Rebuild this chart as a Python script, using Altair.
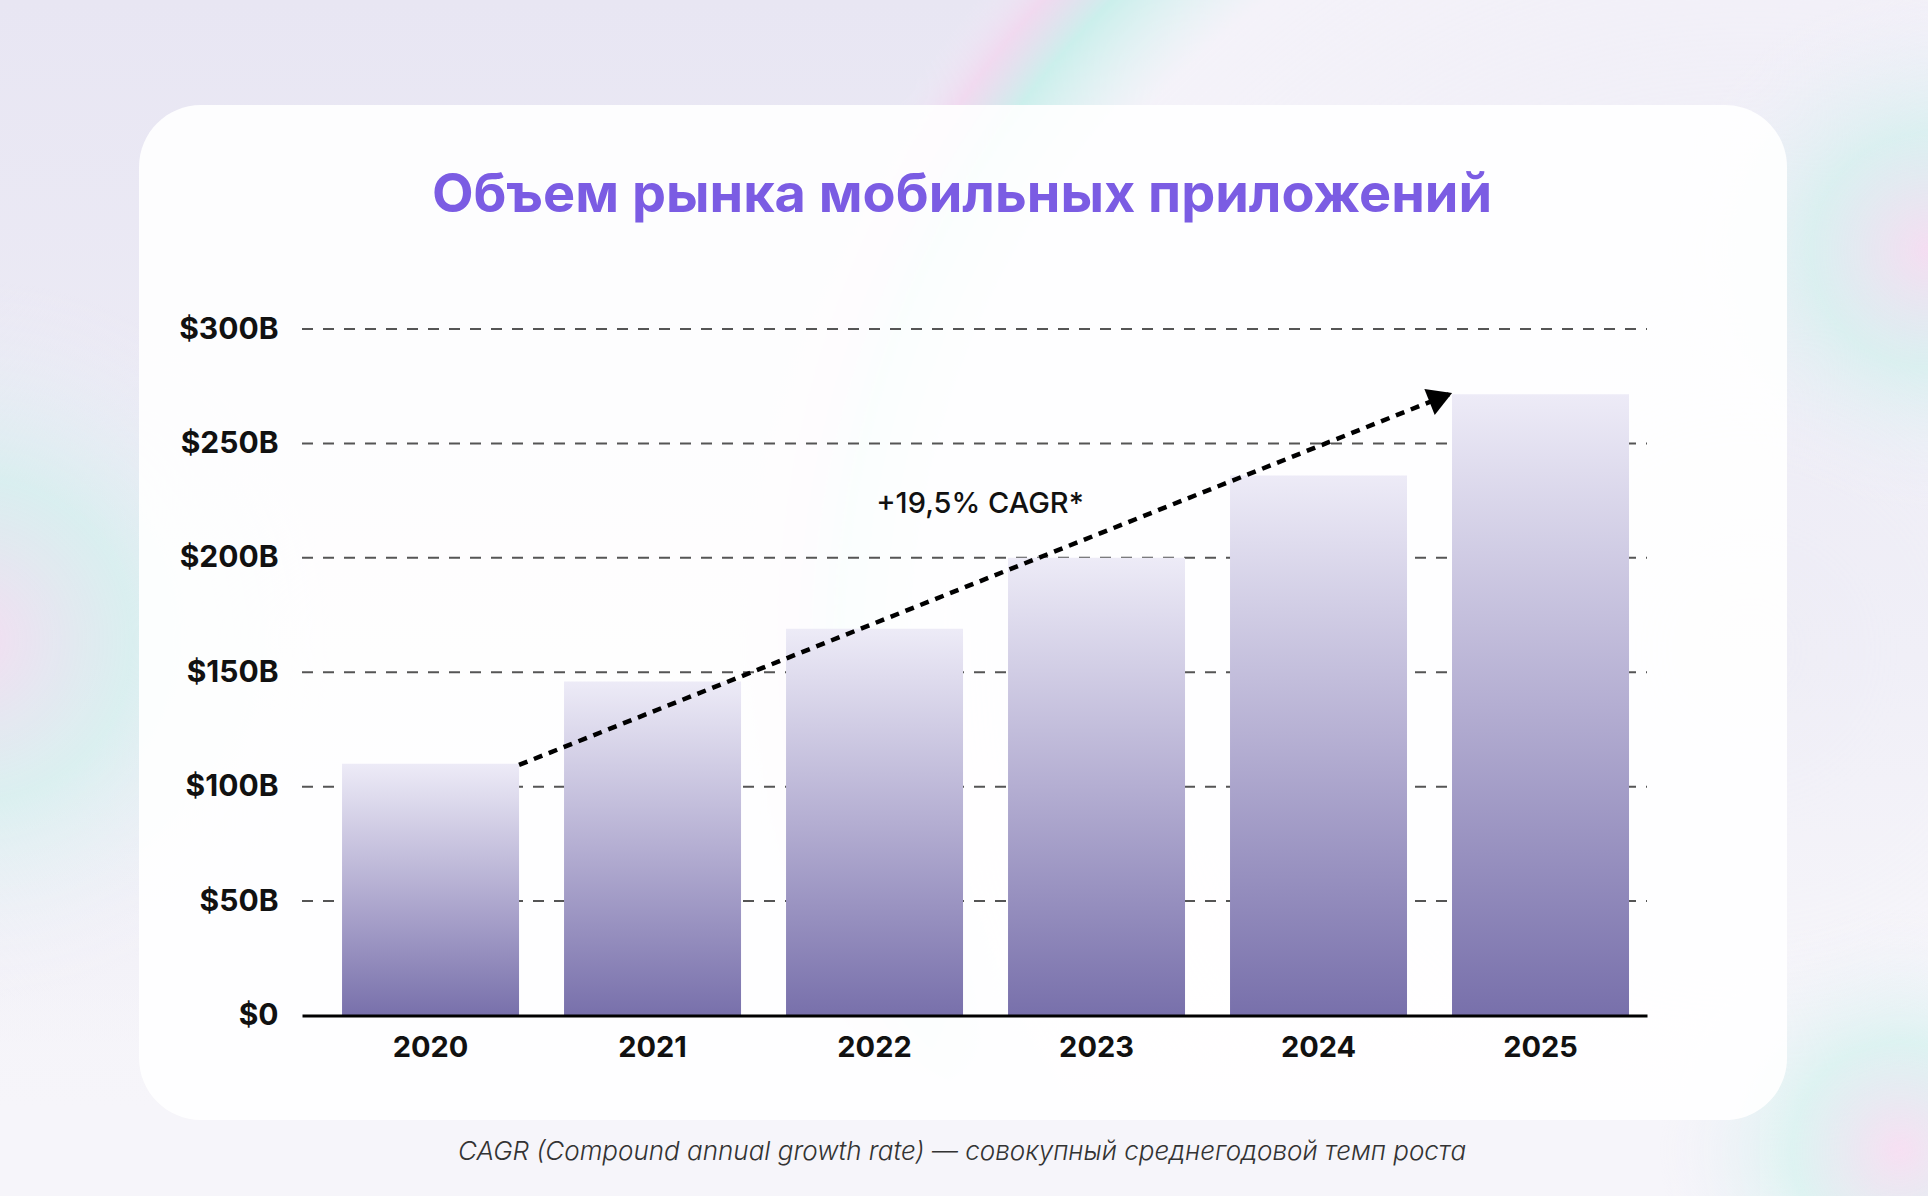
import altair as alt
import pandas as pd

# ---- data ----
years = ["2020", "2021", "2022", "2023", "2024", "2025"]
market_values = [110, 146, 169, 200, 236, 271.5]
y_ticks = [0, 50, 100, 150, 200, 250, 300]

title_text = "Объем рынка мобильных приложений"
annotation_text = "+19,5% CAGR*"
footnote_text = "CAGR (Compound annual growth rate) — совокупный среднегодовой темп роста"

arrow_years = ["2020", "2025"]
arrow_values = [109.5, 272]

# ---- layout ----
W, H = 1345, 686.5
PAD_L, PAD_T = 302, 329
FONT = "Inter"

bars_df = pd.DataFrame({"year": years, "value": market_values})
grid_df = pd.DataFrame({"value": y_ticks[1:]})
arrow_df = pd.DataFrame({"year": [arrow_years[0]], "year_to": [arrow_years[1]],
                         "value": [arrow_values[0]], "v_to": [arrow_values[1]]})
head_df = pd.DataFrame({"year": [arrow_years[1]], "value": [arrow_values[1]]})
one = pd.DataFrame({"a": [0]})

x_scale = alt.Scale(domain=years, paddingInner=0.2027, paddingOuter=0.1307, align=0.69)
y_scale = alt.Scale(domain=[0, 300], nice=False)

x_axis = alt.Axis(title=None, labelAngle=0, ticks=False, domain=True, zindex=1,
                  domainColor="#000000", domainWidth=3,
                  labelFont=FONT, labelFontSize=29, labelFontWeight="bold",
                  labelColor="#111111", labelPadding=18)
y_axis = alt.Axis(title=None, values=y_ticks, grid=False, ticks=False, domain=False, zindex=1,
                  labelFont=FONT, labelFontSize=30, labelFontWeight="bold",
                  labelColor="#111111", labelPadding=24, labelBaseline="middle",
                  labelExpr="datum.value == 0 ? '$0' : '$' + datum.value + 'B'")

# ---- decorative background ----
bg_grad = alt.Gradient(gradient="linear", x1=0, x2=0, y1=0, y2=1,
                       stops=[alt.GradientStop(color="#E8E6F3", offset=0),
                              alt.GradientStop(color="#EEEDF6", offset=0.55),
                              alt.GradientStop(color="#F7F6FA", offset=1)])
background = alt.Chart(one).mark_rect(fill=bg_grad).encode(
    x=alt.value(-PAD_L), x2=alt.value(1928 - PAD_L),
    y=alt.value(-PAD_T), y2=alt.value(1196 - PAD_T))

ring_grad = alt.Gradient(gradient="radial",
                         stops=[alt.GradientStop(color="rgba(255,255,255,0)", offset=0),
                                alt.GradientStop(color="rgba(252,250,253,0.6)", offset=0.8),
                                alt.GradientStop(color="rgba(200,240,235,0.9)", offset=0.9),
                                alt.GradientStop(color="rgba(244,212,238,0.7)", offset=0.95),
                                alt.GradientStop(color="rgba(240,236,248,0)", offset=1)])
ring_right = alt.Chart(one).mark_point(shape="circle", size=2022 ** 2, filled=True,
                                       fill=ring_grad, opacity=1, strokeWidth=0).encode(
    x=alt.value(1750 - PAD_L), y=alt.value(650 - PAD_T))

bottom_fade = alt.Chart(one).mark_rect(fill=alt.Gradient(
    gradient="linear", x1=0, x2=0, y1=0, y2=1,
    stops=[alt.GradientStop(color="rgba(246,245,250,0)", offset=0),
           alt.GradientStop(color="rgba(246,245,250,1)", offset=0.6)])).encode(
    x=alt.value(-PAD_L), x2=alt.value(1760 - PAD_L),
    y=alt.value(980 - PAD_T), y2=alt.value(1196 - PAD_T))

glow_grad = alt.Gradient(gradient="radial",
                         stops=[alt.GradientStop(color="rgba(246,216,240,0.85)", offset=0),
                                alt.GradientStop(color="rgba(206,240,236,0.7)", offset=0.45),
                                alt.GradientStop(color="rgba(240,238,248,0)", offset=1)])
glow_left = alt.Chart(one).mark_point(shape="circle", size=720 ** 2, filled=True,
                                      fill=glow_grad, opacity=0.9, strokeWidth=0).encode(
    x=alt.value(-30 - PAD_L), y=alt.value(640 - PAD_T))
glow_right_top = alt.Chart(one).mark_point(shape="circle", size=520 ** 2, filled=True,
                                           fill=glow_grad, opacity=0.9, strokeWidth=0).encode(
    x=alt.value(1928 - PAD_L), y=alt.value(250 - PAD_T))
glow_right_bot = alt.Chart(one).mark_point(shape="circle", size=480 ** 2, filled=True,
                                           fill=glow_grad, opacity=0.9, strokeWidth=0).encode(
    x=alt.value(1900 - PAD_L), y=alt.value(1150 - PAD_T))

card = alt.Chart(one).mark_rect(cornerRadius=62, color="#FFFFFF", opacity=0.9).encode(
    x=alt.value(139 - PAD_L), x2=alt.value(1787 - PAD_L),
    y=alt.value(105 - PAD_T), y2=alt.value(1120 - PAD_T))

# ---- chart marks ----
grid = alt.Chart(grid_df).mark_rule(color="#555555", strokeWidth=2, strokeDash=[11, 10]).encode(
    y=alt.Y("value:Q", scale=y_scale, axis=y_axis), x=alt.value(0), x2=alt.value(W))

bar_grad = alt.Gradient(
    gradient="linear", x1=0, x2=0, y1=0, y2=1,
    stops=[alt.GradientStop(color="#EDEBF7", offset=0),
           alt.GradientStop(color="#B4AED2", offset=0.5),
           alt.GradientStop(color="#7870AB", offset=1)])

bars = alt.Chart(bars_df).mark_bar(color=bar_grad).encode(
    x=alt.X("year:N", scale=x_scale, sort=years, axis=x_axis),
    y=alt.Y("value:Q", scale=y_scale, axis=y_axis))

arrow = alt.Chart(arrow_df).mark_rule(color="#000000", strokeWidth=4.5, strokeDash=[9, 7],
                                      xOffset=88.5, x2Offset=-88.5).encode(
    x=alt.X("year:N", scale=x_scale, sort=years, axis=x_axis),
    x2="year_to:N",
    y=alt.Y("value:Q", scale=y_scale, axis=y_axis),
    y2="v_to:Q")

head = alt.Chart(head_df).mark_point(shape="triangle-right", size=784, filled=True, color="#000000",
                                     opacity=1, angle=338.26, xOffset=-88.5 - 11.2, yOffset=4.5).encode(
    x=alt.X("year:N", scale=x_scale, sort=years, axis=x_axis),
    y=alt.Y("value:Q", scale=y_scale, axis=y_axis))

title = alt.Chart(one).mark_text(text=title_text, font=FONT, fontSize=54, fontWeight="bold",
                                 color="#7B5CE3", align="center", baseline="alphabetic").encode(
    x=alt.value(962 - PAD_L), y=alt.value(212 - PAD_T))

annot = alt.Chart(one).mark_text(text=annotation_text, font=FONT, fontSize=29, fontWeight=500,
                                 color="#111111", align="center", baseline="alphabetic").encode(
    x=alt.value(980 - PAD_L), y=alt.value(513 - PAD_T))

foot = alt.Chart(one).mark_text(text=footnote_text, font=FONT, fontSize=26, fontWeight=300,
                                fontStyle="italic", color="#333333", align="center",
                                baseline="alphabetic").encode(
    x=alt.value(962 - PAD_L), y=alt.value(1160 - PAD_T))

chart = alt.layer(background, ring_right, bottom_fade, glow_left, glow_right_top, glow_right_bot,
                  card, grid, bars, arrow, head, annot, title, foot).properties(
    width=W, height=H,
    padding={"left": PAD_L, "top": PAD_T, "right": 1928 - PAD_L - W, "bottom": 1196 - PAD_T - H},
    autosize=alt.AutoSizeParams(type="none"),
    background="#EAE8F4",
).configure_view(stroke=None)

chart.save("out.html", embed_options={"renderer": "svg", "actions": False})
